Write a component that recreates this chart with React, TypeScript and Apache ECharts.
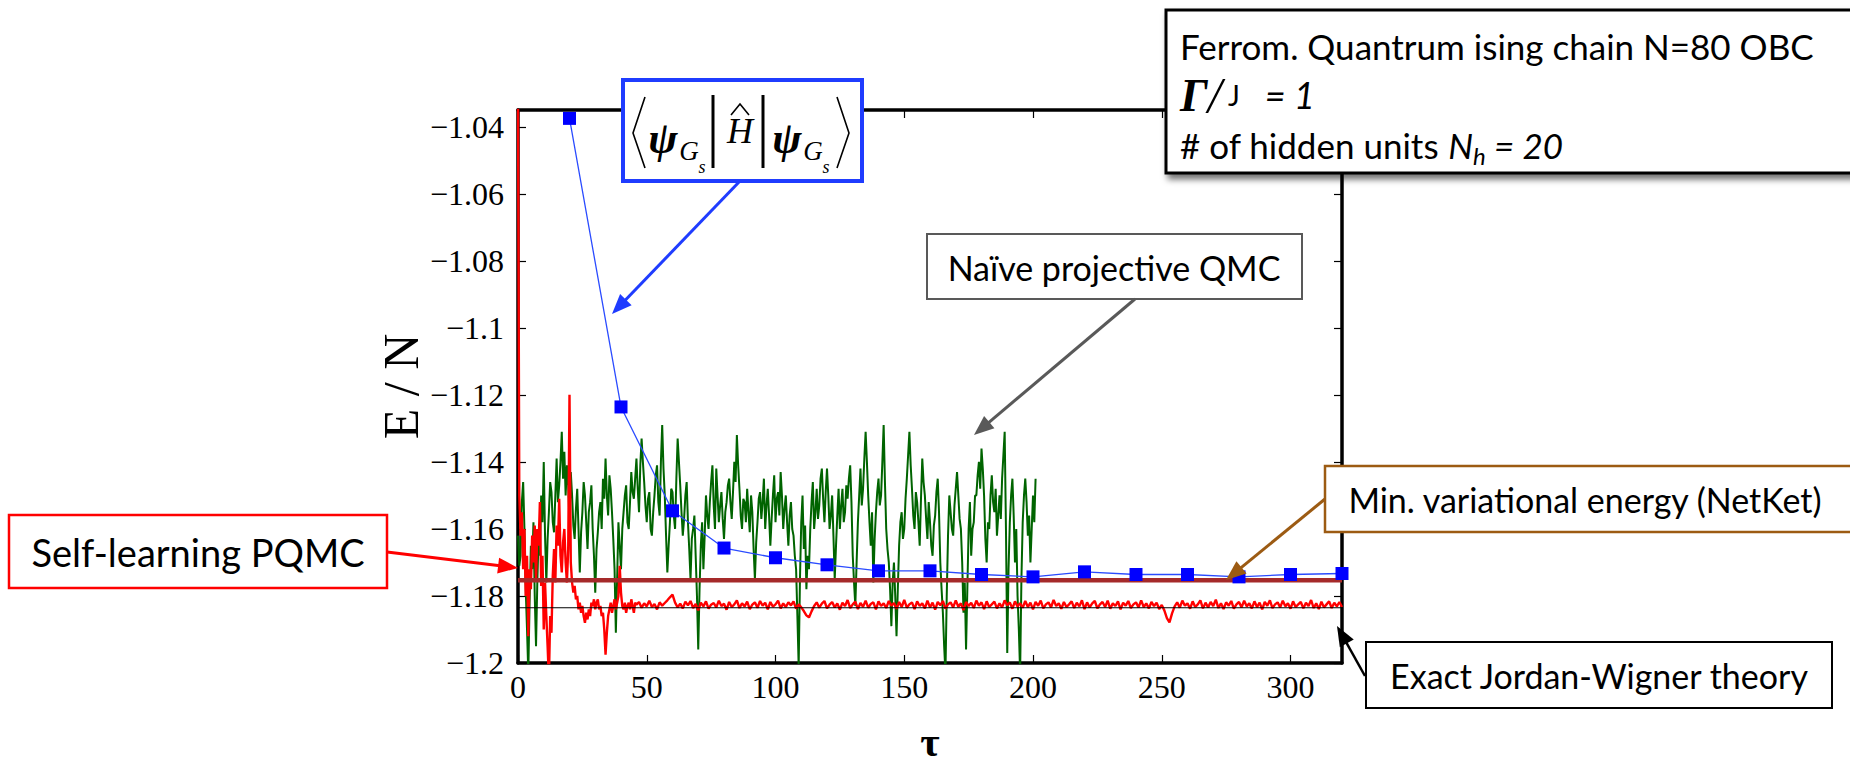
import React, { useEffect, useRef } from "react";
import * as echarts from "echarts";

// ---- data -----------------------------------------------------------------
// variational energy of the trained RBM state, sampled every 20 steps
const blueTau = [20, 40, 60, 80, 100, 120, 140, 160, 180, 200, 220, 240, 260, 280, 300, 320];
const blueEnergy = [
  -1.0375, -1.1236, -1.1546, -1.1657, -1.1686, -1.1707, -1.1725, -1.1725,
  -1.1736, -1.1743, -1.1728, -1.1736, -1.1736, -1.1743, -1.1736, -1.1733,
];

// naive projective QMC, tau = 0, 0.5, 1, ... 201
const greenEnergy = [
  -1.162, -1.171, -1.168, -1.152, -1.146, -1.16, -1.178, -1.19, -1.203, -1.182,
  -1.165, -1.172, -1.158, -1.18, -1.195, -1.176, -1.162, -1.168, -1.15, -1.158,
  -1.14, -1.162, -1.176, -1.163, -1.155, -1.146, -1.149, -1.158, -1.161, -1.15,
  -1.139, -1.152, -1.147, -1.14, -1.131, -1.145, -1.137, -1.15, -1.141, -1.147,
  -1.158, -1.143, -1.15, -1.159, -1.163, -1.154, -1.148, -1.16, -1.173, -1.161,
  -1.155, -1.146, -1.15, -1.158, -1.166, -1.155, -1.152, -1.147, -1.16, -1.168,
  -1.179, -1.166, -1.161, -1.155, -1.152, -1.16, -1.145, -1.151, -1.139, -1.15,
  -1.156, -1.144, -1.148, -1.155, -1.163, -1.172, -1.191, -1.175, -1.158, -1.165,
  -1.172, -1.16, -1.155, -1.15, -1.147, -1.158, -1.16, -1.152, -1.143, -1.149,
  -1.151, -1.145, -1.139, -1.148, -1.155, -1.141, -1.133, -1.14, -1.146, -1.153,
  -1.158, -1.151, -1.149, -1.16, -1.162, -1.155, -1.15, -1.144, -1.141, -1.152,
  -1.156, -1.14, -1.129, -1.142, -1.15, -1.162, -1.173, -1.165, -1.158, -1.148,
  -1.149, -1.156, -1.16, -1.145, -1.133, -1.14, -1.147, -1.155, -1.162, -1.157,
  -1.15, -1.146, -1.158, -1.166, -1.175, -1.163, -1.16, -1.156, -1.168, -1.18,
  -1.196, -1.178, -1.165, -1.158, -1.172, -1.162, -1.15, -1.156, -1.16, -1.152,
  -1.146, -1.141, -1.153, -1.16, -1.142, -1.15, -1.158, -1.153, -1.149, -1.157,
  -1.163, -1.155, -1.152, -1.147, -1.145, -1.152, -1.157, -1.149, -1.14, -1.146,
  -1.132, -1.141, -1.148, -1.156, -1.16, -1.151, -1.152, -1.158, -1.148, -1.155,
  -1.161, -1.15, -1.155, -1.166, -1.175, -1.164, -1.158, -1.151, -1.149, -1.157,
  -1.152, -1.145, -1.16, -1.153, -1.148, -1.156, -1.165, -1.157, -1.15, -1.144,
  -1.158, -1.151, -1.149, -1.156, -1.143, -1.15, -1.16, -1.154, -1.15, -1.158,
  -1.165, -1.156, -1.152, -1.16, -1.162, -1.168, -1.172, -1.186, -1.201, -1.175,
  -1.158, -1.15, -1.166, -1.159, -1.178, -1.168, -1.172, -1.16, -1.152, -1.146,
  -1.16, -1.155, -1.148, -1.157, -1.153, -1.145, -1.142, -1.151, -1.158, -1.149,
  -1.142, -1.15, -1.16, -1.156, -1.15, -1.162, -1.175, -1.165, -1.156, -1.148,
  -1.16, -1.153, -1.148, -1.158, -1.155, -1.147, -1.151, -1.145, -1.141, -1.152,
  -1.168, -1.176, -1.183, -1.17, -1.158, -1.15, -1.142, -1.153, -1.148, -1.139,
  -1.131, -1.14, -1.15, -1.158, -1.165, -1.155, -1.176, -1.163, -1.155, -1.149,
  -1.145, -1.153, -1.15, -1.14, -1.129, -1.146, -1.16, -1.166, -1.17, -1.178,
  -1.189, -1.176, -1.17, -1.18, -1.192, -1.178, -1.165, -1.158, -1.155, -1.163,
  -1.16, -1.151, -1.145, -1.138, -1.131, -1.141, -1.148, -1.156, -1.16, -1.149,
  -1.152, -1.158, -1.165, -1.151, -1.139, -1.146, -1.15, -1.157, -1.163, -1.152,
  -1.158, -1.165, -1.168, -1.159, -1.156, -1.149, -1.145, -1.155, -1.17, -1.178,
  -1.185, -1.195, -1.203, -1.18, -1.162, -1.15, -1.155, -1.16, -1.162, -1.153,
  -1.148, -1.143, -1.15, -1.157, -1.16, -1.17, -1.185, -1.176, -1.196, -1.178,
  -1.16, -1.152, -1.168, -1.16, -1.158, -1.15, -1.15, -1.144, -1.14, -1.148,
  -1.136, -1.142, -1.15, -1.163, -1.17, -1.158, -1.16, -1.15, -1.144, -1.152,
  -1.155, -1.148, -1.162, -1.156, -1.15, -1.157, -1.145, -1.138, -1.131, -1.16,
  -1.197, -1.172, -1.158, -1.15, -1.145, -1.156, -1.17, -1.16, -1.18, -1.19,
  -1.203, -1.175, -1.158, -1.15, -1.145, -1.152, -1.162, -1.156, -1.17, -1.16,
  -1.15, -1.158, -1.145,
];

// self-learning PQMC, tau = 0, 0.5, 1, ... 45.5
const redEarlyEnergy = [
  -1.03, -1.15, -1.162, -1.155, -1.172, -1.16, -1.18, -1.168, -1.192, -1.172,
  -1.178, -1.162, -1.17, -1.159, -1.175, -1.16, -1.165, -1.152, -1.177, -1.168,
  -1.19, -1.176, -1.186, -1.195, -1.205, -1.186, -1.191, -1.174, -1.166, -1.176,
  -1.159, -1.165, -1.151, -1.168, -1.173, -1.164, -1.16, -1.17, -1.176, -1.166,
  -1.12, -1.17, -1.176, -1.179, -1.177, -1.181, -1.18, -1.184, -1.182, -1.185,
  -1.183, -1.186, -1.188, -1.185, -1.187, -1.184, -1.186, -1.182, -1.183, -1.181,
  -1.184, -1.182, -1.181, -1.184, -1.183, -1.186, -1.185, -1.19, -1.1975, -1.191,
  -1.186, -1.184, -1.182, -1.185, -1.183, -1.181, -1.184, -1.182, -1.18, -1.171,
  -1.179, -1.183, -1.184, -1.182, -1.185, -1.183, -1.182, -1.184, -1.181, -1.183,
  -1.185, -1.182,
];

// self-learning PQMC, tau = 46, 47, ... 320
const redLateEnergy = [
  -1.1826, -1.1818, -1.1835, -1.1822, -1.1831, -1.1814, -1.1833, -1.1824, -1.184, -1.1819,
  -1.1829, -1.1821, -1.1813, -1.1804, -1.1796, -1.182, -1.1834, -1.1823, -1.1837, -1.1817,
  -1.1828, -1.1815, -1.1836, -1.1824, -1.1843, -1.182, -1.1831, -1.1816, -1.1838, -1.1826,
  -1.1821, -1.1834, -1.1814, -1.183, -1.1823, -1.1841, -1.1818, -1.1833, -1.1825, -1.1813,
  -1.1836, -1.1822, -1.1831, -1.1817, -1.1839, -1.1826, -1.1819, -1.1835, -1.1815, -1.1829,
  -1.182, -1.184, -1.1818, -1.1832, -1.1825, -1.1814, -1.1837, -1.1822, -1.1833, -1.1819,
  -1.1828, -1.1816, -1.1838, -1.1825, -1.1834, -1.1845, -1.1858, -1.1864, -1.1846, -1.183,
  -1.1819, -1.1835, -1.1823, -1.1815, -1.1837, -1.1826, -1.1818, -1.1834, -1.1822, -1.1841,
  -1.182, -1.183, -1.1812, -1.1836, -1.1825, -1.1817, -1.1839, -1.1821, -1.1832, -1.1814,
  -1.1835, -1.1824, -1.1819, -1.184, -1.1816, -1.183, -1.1822, -1.1836, -1.1815, -1.1829,
  -1.1821, -1.1838, -1.1818, -1.1833, -1.1812, -1.1835, -1.1825, -1.1819, -1.1839, -1.1816,
  -1.183, -1.1822, -1.1837, -1.1814, -1.1834, -1.182, -1.1841, -1.1818, -1.1828, -1.1815,
  -1.1838, -1.1825, -1.1819, -1.1834, -1.1813, -1.1832, -1.1822, -1.1842, -1.1818, -1.183,
  -1.182, -1.1836, -1.1814, -1.1829, -1.1819, -1.1839, -1.1816, -1.1833, -1.1825, -1.1817,
  -1.1837, -1.1822, -1.1834, -1.1813, -1.1828, -1.1819, -1.1838, -1.1816, -1.1831, -1.1822,
  -1.1835, -1.1815, -1.1833, -1.182, -1.184, -1.1818, -1.1829, -1.1814, -1.1837, -1.1825,
  -1.1819, -1.1834, -1.1812, -1.183, -1.1822, -1.1838, -1.1818, -1.1833, -1.1825, -1.1816,
  -1.1836, -1.182, -1.1831, -1.1813, -1.1839, -1.1819, -1.1834, -1.1822, -1.1815, -1.1837,
  -1.1825, -1.1818, -1.1833, -1.1814, -1.1838, -1.1822, -1.183, -1.1816, -1.184, -1.182,
  -1.1829, -1.1815, -1.1836, -1.1825, -1.1819, -1.1834, -1.1813, -1.1833, -1.1822, -1.1837,
  -1.1818, -1.183, -1.182, -1.1839, -1.1827, -1.1843, -1.1866, -1.1879, -1.1852, -1.1831,
  -1.1819, -1.1835, -1.1814, -1.1829, -1.1822, -1.1838, -1.1816, -1.1833, -1.1825, -1.1813,
  -1.1837, -1.182, -1.1834, -1.1818, -1.183, -1.1811, -1.1836, -1.1822, -1.1839, -1.1819,
  -1.1829, -1.1815, -1.1838, -1.1825, -1.1818, -1.1834, -1.1814, -1.1831, -1.1822, -1.1837,
  -1.1816, -1.1833, -1.182, -1.184, -1.1818, -1.1829, -1.1813, -1.1836, -1.1825, -1.1819,
  -1.1834, -1.1814, -1.1831, -1.1822, -1.1838, -1.1816, -1.1833, -1.1825, -1.1818, -1.1837,
  -1.182, -1.183, -1.1812, -1.1836, -1.1822, -1.1839, -1.1817, -1.1834, -1.1825, -1.1816,
  -1.1836, -1.182, -1.1831, -1.1818, -1.1833,
];

const exactEnergy = -1.1835; // Jordan-Wigner reference
const netketEnergy = -1.1753; // minimum variational energy
const tauRange = [0, 320];
const energyRange = [-1.2, -1.035];

// ---- drawing helpers ------------------------------------------------------
const SERIF = '"Liberation Serif", "Times New Roman", serif';
const SANS = 'Lato, "Open Sans", sans-serif';

function arrow(x1: number, y1: number, x2: number, y2: number, color: string, width: number, head = 20, half = 8) {
  const dx = x2 - x1;
  const dy = y2 - y1;
  const len = Math.hypot(dx, dy);
  const ux = dx / len;
  const uy = dy / len;
  const bx = x2 - ux * head;
  const by = y2 - uy * head;
  return [
    { type: "line", z: 100, shape: { x1, y1, x2: bx + ux * 2, y2: by + uy * 2 }, style: { stroke: color, lineWidth: width } },
    {
      type: "polygon",
      z: 100,
      shape: { points: [[x2, y2], [bx - uy * half, by + ux * half], [bx + uy * half, by - ux * half]] },
      style: { fill: color },
    },
  ];
}

function box(x: number, y: number, w: number, h: number, stroke: string, lw: number, extra: any = {}) {
  return { type: "rect", z: 100, shape: { x, y, width: w, height: h }, style: { fill: "#fff", stroke, lineWidth: lw, ...extra } };
}

function label(x: number, y: number, text: string, font: string, align = "center", extra: any = {}) {
  return { type: "text", z: 101, x, y, style: { text, font, fill: "#000", align, verticalAlign: "middle", ...extra } };
}

function seg(points: number[][], width: number, color = "#000") {
  return { type: "polyline", z: 101, shape: { points }, style: { stroke: color, lineWidth: width, fill: null } };
}

export default function App() {
  const ref = useRef<HTMLDivElement>(null);

  useEffect(() => {
    if (!ref.current) return;
    const chart = echarts.init(ref.current, undefined, { renderer: "svg" });

    const greenData = greenEnergy.map((e, i) => [i * 0.5, e]);
    const redData = [
      ...redEarlyEnergy.map((e, i) => [i * 0.5, e]),
      ...redLateEnergy.map((e, i) => [46 + i, e]),
    ];
    const blueData = blueTau.map((t, i) => [t, blueEnergy[i]]);

    const tickStyle = { show: true, inside: true, length: 8, lineStyle: { color: "#000", width: 1.2 } };
    const axisLine = { show: true, onZero: false, lineStyle: { color: "#000", width: 3.5 } };

    const yFormatter = (v: number) => {
      const r = Math.round(v * 100) / 100;
      if (Math.abs(r - v) > 1e-6) return "";
      return String(r).replace("-", "\u2212");
    };

    const mathBlue = "#1f3cff";

    const graphics: any[] = [
      // formula box
      box(623, 80, 239, 101, mathBlue, 4),
      seg([[645, 97], [633, 133], [645, 168]], 1.6),
      label(663, 138, "\u03c8", `italic bold 44px ${SERIF}`),
      label(689, 151, "G", `italic 27px ${SERIF}`),
      label(702, 167, "s", `italic 18px ${SERIF}`),
      seg([[713, 95], [713, 168]], 3),
      label(740, 131, "H", `italic 36px ${SERIF}`),
      seg([[731, 115], [740, 104], [749, 115]], 1.6),
      seg([[763, 95], [763, 168]], 3),
      label(787, 138, "\u03c8", `italic bold 44px ${SERIF}`),
      label(813, 151, "G", `italic 27px ${SERIF}`),
      label(826, 167, "s", `italic 18px ${SERIF}`),
      seg([[837, 97], [849, 133], [837, 168]], 1.6),
      ...arrow(740, 181, 612, 314, mathBlue, 3),

      // naive projective QMC
      box(927, 234, 375, 65, "#595959", 2),
      label(1114, 267, "Na\u00efve projective QMC", `34px ${SANS}`),
      ...arrow(1135, 299, 974, 435, "#595959", 3),

      // NetKet minimum
      box(1325, 466, 530, 66, "#9c5b13", 2.5),
      label(1585, 499, "Min. variational energy (NetKet)", `34px ${SANS}`),
      ...arrow(1325, 499, 1226, 580, "#9c5b13", 3),

      // exact result
      box(1366, 642, 466, 66, "#000", 2),
      label(1599, 675, "Exact Jordan-Wigner theory", `34px ${SANS}`),
      ...arrow(1365, 676, 1337, 626, "#000", 2.5),

      // self-learning PQMC
      box(9, 515, 378, 73, "#ff0000", 2.5),
      label(198, 552, "Self-learning PQMC", `38px ${SANS}`),
      ...arrow(387, 552, 518, 568, "#ff0000", 3),

      // parameters box
      box(1166, 10, 700, 163, "#000", 3, {
        shadowBlur: 6,
        shadowOffsetX: 3,
        shadowOffsetY: 5,
        shadowColor: "rgba(0,0,0,0.55)",
      }),
      label(1180, 46, "Ferrom. Quantrum ising chain N=80 OBC", `35px ${SANS}`, "left"),
      {
        type: "text",
        z: 101,
        x: 1180,
        y: 95,
        style: {
          text: "{g|\u0393}{sl|/}{j| J }{eq|  = 1}",
          align: "left",
          verticalAlign: "middle",
          fill: "#000",
          rich: {
            g: { fontFamily: SERIF, fontStyle: "italic", fontWeight: "bold", fontSize: 46, fill: "#000", lineHeight: 50 },
            sl: { fontFamily: SERIF, fontStyle: "italic", fontSize: 50, fill: "#000", lineHeight: 50 },
            j: { fontFamily: SANS, fontSize: 28, fill: "#000", lineHeight: 50 },
            eq: { fontFamily: SANS, fontStyle: "italic", fontSize: 36, fill: "#000", lineHeight: 50 },
          },
        },
      },
      {
        type: "text",
        z: 101,
        x: 1180,
        y: 145,
        style: {
          text: "{t|# of hidden units }{n|N}{h|h}{eq| = 20}",
          align: "left",
          verticalAlign: "middle",
          fill: "#000",
          rich: {
            t: { fontFamily: SANS, fontSize: 35, fill: "#000", lineHeight: 44 },
            n: { fontFamily: SANS, fontStyle: "italic", fontSize: 35, fill: "#000", lineHeight: 44 },
            h: { fontFamily: SANS, fontStyle: "italic", fontSize: 24, fill: "#000", lineHeight: 24, verticalAlign: "bottom" },
            eq: { fontFamily: SANS, fontStyle: "italic", fontSize: 35, fill: "#000", lineHeight: 44 },
          },
        },
      },
    ];

    chart.setOption({
      animation: false,
      backgroundColor: "#fff",
      grid: { left: 518, top: 110, width: 824, height: 555, containLabel: false },
      xAxis: [
        {
          type: "value",
          position: "bottom",
          min: tauRange[0],
          max: tauRange[1],
          interval: 50,
          axisLine,
          axisTick: tickStyle,
          splitLine: { show: false },
          axisLabel: {
            showMaxLabel: false,
            margin: 8,
            color: "#000",
            fontFamily: SERIF,
            fontSize: 32,
          },
          name: "\u03c4",
          nameLocation: "middle",
          nameGap: 58,
          nameTextStyle: { fontFamily: SERIF, fontWeight: "bold", fontSize: 42, color: "#000" },
        },
        {
          type: "value",
          position: "top",
          min: tauRange[0],
          max: tauRange[1],
          interval: 50,
          axisLine,
          axisTick: tickStyle,
          splitLine: { show: false },
          axisLabel: { show: false },
        },
      ],
      yAxis: [
        {
          type: "value",
          position: "left",
          min: energyRange[0],
          max: energyRange[1],
          interval: 0.02,
          axisLine,
          axisTick: tickStyle,
          splitLine: { show: false },
          axisLabel: {
            showMaxLabel: false,
            formatter: yFormatter,
            margin: 14,
            color: "#000",
            fontFamily: SERIF,
            fontSize: 32,
          },
          name: "E / N",
          nameLocation: "middle",
          nameGap: 90,
          nameTextStyle: { fontFamily: SERIF, fontSize: 50, color: "#000" },
        },
        {
          type: "value",
          position: "right",
          min: energyRange[0],
          max: energyRange[1],
          interval: 0.02,
          axisLine,
          axisTick: tickStyle,
          splitLine: { show: false },
          axisLabel: { show: false },
        },
      ],
      series: [
        {
          name: "Naive projective QMC",
          type: "line",
          data: greenData,
          showSymbol: false,
          symbol: "none",
          lineStyle: { color: "#006400", width: 2 },
          z: 2,
        },
        {
          name: "Self-learning PQMC",
          type: "line",
          data: redData,
          showSymbol: false,
          symbol: "none",
          lineStyle: { color: "#ff0000", width: 2.4 },
          z: 3,
        },
        {
          name: "Exact Jordan-Wigner theory",
          type: "line",
          data: [[tauRange[0], exactEnergy], [tauRange[1], exactEnergy]],
          showSymbol: false,
          symbol: "none",
          lineStyle: { color: "#000", width: 1.1 },
          z: 4,
        },
        {
          name: "Min. variational energy (NetKet)",
          type: "line",
          data: [[tauRange[0], netketEnergy], [tauRange[1], netketEnergy]],
          showSymbol: false,
          symbol: "none",
          lineStyle: { color: "#a52a2a", width: 4.5 },
          z: 5,
        },
        {
          name: "RBM variational energy",
          type: "line",
          data: blueData,
          symbol: "rect",
          symbolSize: 13,
          itemStyle: { color: "#0000ff" },
          lineStyle: { color: "#2a4bff", width: 1.3 },
          z: 6,
        },
      ],
      graphic: { elements: graphics },
    });

    return () => chart.dispose();
  }, []);

  return (
    <div
      ref={ref}
      style={{ position: "fixed", left: 0, top: 0, width: 1850, height: 768, background: "#fff" }}
    />
  );
}
